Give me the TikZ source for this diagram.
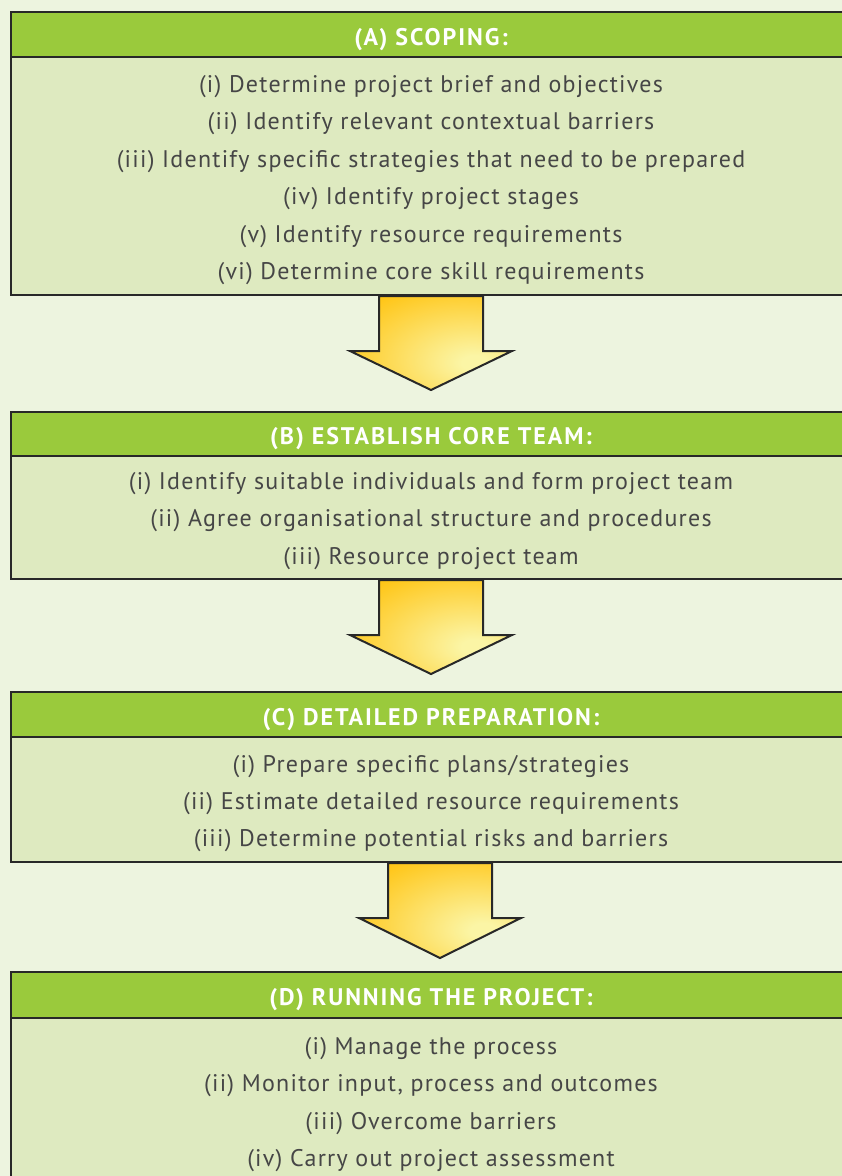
\documentclass[tikz,border=0pt]{standalone}
\usepackage{fontspec}
\setmainfont{PT Sans}
\newfontfamily\bodyfont[LetterSpace=5.2]{PT Sans}
\newfontfamily\headfont[LetterSpace=8]{PT Sans}
\usetikzlibrary{calc}
\definecolor{bgc}{RGB}{237,244,223}
\definecolor{hdrc}{RGB}{154,202,60}
\definecolor{bdyc}{RGB}{222,234,192}
\definecolor{edgec}{RGB}{40,40,40}
\definecolor{txtc}{RGB}{70,70,70}
\definecolor{arrlight}{RGB}{251,245,165}
\definecolor{arrdark}{RGB}{255,196,18}
\pgfdeclareradialshading{arrowshade}{\pgfpoint{14bp}{-11bp}}{color(0bp)=(arrlight); color(4bp)=(arrlight); color(40bp)=(arrdark); color(100bp)=(arrdark)}
\begin{document}
\begin{tikzpicture}[x=1pt,y=-1pt,
  hdrbox/.style={draw=edgec, line width=2pt, fill=hdrc, minimum width=840pt, inner sep=0pt, text height=21pt, text depth=0pt, text=white, font=\headfont\fontsize{24}{28}\selectfont\bfseries},
  bdybox/.style={draw=edgec, line width=2pt, fill=bdyc, minimum width=840pt, inner sep=0pt},
  bdytext/.style={inner sep=0pt, text=txtc, align=center, font=\bodyfont\fontsize{24}{37.4}\selectfont},
  blockarrow/.style={draw=edgec, line width=2pt, shading=arrowshade, line join=miter}]
\path[use as bounding box] (0,0) rectangle (842,1176);
\fill[bgc] (0,0) rectangle (842,1176);
\clip (0,0) rectangle (842,1176);

% Box A
\node[bdybox, minimum height=238pt] (bA) at (431,176) {};
\node[bdytext] (tA) at (431,180) {(i) Determine project brief and objectives\\(ii) Identify relevant contextual barriers\\(iii) Identify specific strategies that need to be prepared\\(iv) Identify project stages\\(v) Identify resource requirements\\(vi) Determine core skill requirements};
\node[hdrbox, minimum height=45pt] (hA) at (431,34.5) {(A) SCOPING:};

% Box B
\node[bdybox, minimum height=123pt] (bB) at (431,517.5) {};
\node[bdytext] (tB) at (431,521) {(i) Identify suitable individuals and form project team\\(ii) Agree organisational structure and procedures\\(iii) Resource project team};
\node[hdrbox, minimum height=44pt] (hB) at (431,434) {(B) ESTABLISH CORE TEAM:};

% Box C
\node[bdybox, minimum height=125pt] (bC) at (431,799.5) {};
\node[bdytext] (tC) at (431,803.5) {(i) Prepare specific plans/strategies\\(ii) Estimate detailed resource requirements\\(iii) Determine potential risks and barriers};
\node[hdrbox, minimum height=45pt] (hC) at (431,714.5) {(C) DETAILED PREPARATION:};

% Box D
\node[bdybox, minimum height=182pt] (bD) at (431,1109) {};
\node[hdrbox, minimum height=46pt] (hD) at (431,995) {(D) RUNNING THE PROJECT:};
\node[bdytext] (tD) at (431,1104.5) {(i) Manage the process\\(ii) Monitor input, process and outcomes\\(iii) Overcome barriers\\(iv) Carry out project assessment};

% Arrows
\shadedraw[blockarrow] ($(bA.south)+(-52,0)$) -- ($(bA.south)+(-52,55)$) -- ($(bA.south)+(-81,55)$) -- ($(bA.south)+(0,94)$) -- ($(bA.south)+(81,55)$) -- ($(bA.south)+(52,55)$) -- ($(bA.south)+(52,0)$) -- cycle;
\shadedraw[blockarrow] ($(bB.south)+(-52,0)$) -- ($(bB.south)+(-52,55)$) -- ($(bB.south)+(-81,55)$) -- ($(bB.south)+(0,94)$) -- ($(bB.south)+(81,55)$) -- ($(bB.south)+(52,55)$) -- ($(bB.south)+(52,0)$) -- cycle;
\shadedraw[blockarrow] ($(bC.south)+(-43,0)$) -- ($(bC.south)+(-43,55)$) -- ($(bC.south)+(-72,55)$) -- ($(bC.south)+(9,95)$) -- ($(bC.south)+(90,55)$) -- ($(bC.south)+(61,55)$) -- ($(bC.south)+(61,0)$) -- cycle;
\end{tikzpicture}
\end{document}
